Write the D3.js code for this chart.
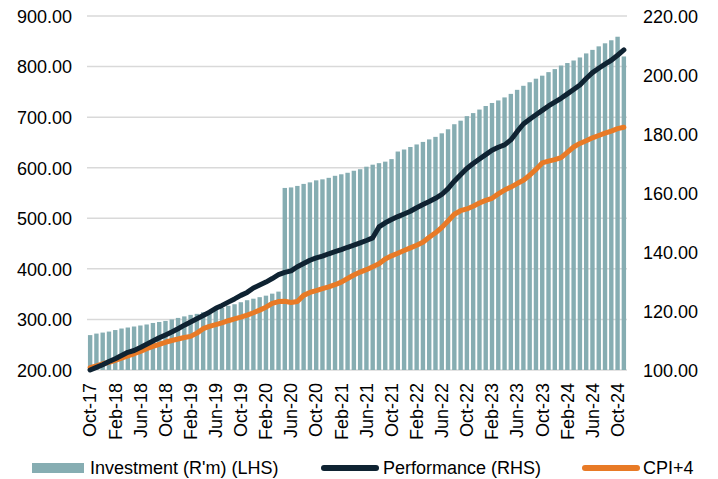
<html>
<script src="https://cdn.jsdelivr.net/npm/d3@7"></script>
<style>
  body { margin: 0; background: #fff; }
  text { font-family: "Liberation Sans", Arial, sans-serif; fill: #000; }
</style>
<body>
<svg width="718" height="479"></svg>
<script>
// monthly, Oct-17 .. Nov-24
const months = d3.utcMonth.range(new Date(Date.UTC(2017, 9, 1)), new Date(Date.UTC(2024, 11, 1)))
  .map(d3.utcFormat("%b-%y"));

const tickLabels = ["Oct-17","Feb-18","Jun-18","Oct-18","Feb-19","Jun-19","Oct-19","Feb-20",
  "Jun-20","Oct-20","Feb-21","Jun-21","Oct-21","Feb-22","Jun-22","Oct-22","Feb-23","Jun-23",
  "Oct-23","Feb-24","Jun-24","Oct-24"];

const investment = [
  269,272,274,276,279,282,284,286,288,290,293,295,297,300,303,306,309,311,314,317,
  320,323,327,330,334,338,341,344,347,351,355,
  560,561,564,568,571,575,577,580,584,587,590,594,597,602,606,609,612,617,
  632,636,641,646,651,656,661,668,676,686,693,
  702,708,715,722,728,733,739,746,754,762,769,776,782,789,795,802,807,812,818,826,
  833,840,846,852,859,820
];

const performance = [
  100.0,100.9,101.8,102.9,103.8,104.9,106.0,106.6,107.6,108.7,109.8,110.9,111.9,112.9,114.0,115.2,
  116.3,117.4,118.5,119.6,120.9,121.9,123.0,124.1,125.3,126.3,127.8,128.8,129.8,131.0,132.3,133.1,
  133.6,135.0,136.1,137.2,138.0,138.6,139.4,140.1,140.8,141.6,142.3,143.1,143.9,144.8,148.5,149.9,
  151.0,152.0,152.9,153.8,155.0,156.1,157.1,158.2,159.5,161.5,164.0,166.2,168.3,170.0,171.5,173.0,
  174.5,175.5,176.3,178.0,180.8,183.4,185.0,186.5,188.0,189.5,190.8,192.1,193.6,195.1,196.6,198.8,
  200.8,202.3,203.7,205.0,206.7,208.5
];

const cpi4 = [
  100.8,101.4,102.1,102.6,103.3,104.0,104.8,105.5,106.3,107.2,108.0,108.7,109.4,110.0,110.5,111.0,
  111.4,112.5,114.0,114.8,115.4,116.0,116.7,117.3,117.9,118.6,119.4,120.3,121.3,122.6,123.2,123.3,
  122.9,123.2,125.3,126.3,126.9,127.6,128.2,128.9,129.8,131.0,132.2,133.2,134.0,135.0,136.0,137.6,
  138.7,139.6,140.5,141.4,142.3,143.3,145.0,146.5,148.3,150.5,152.8,154.0,154.6,155.5,156.6,157.5,
  158.2,159.7,161.0,162.0,163.2,164.3,166.0,168.0,170.2,170.8,171.3,172.0,173.8,175.6,176.8,177.7,
  178.7,179.5,180.3,181.0,181.8,182.3
];

const leftTicks = [200,300,400,500,600,700,800,900];
const rightTicks = [100,120,140,160,180,200,220];

const colBar = "#86adb2", colPerf = "#0f2332", colCpi = "#e87a26";

const svg = d3.select("svg");
const pLeft = 87, pRight = 627, pTop = 16, pBottom = 370;

const x = d3.scaleBand().domain(months).range([pLeft, pRight]).paddingInner(0.3).paddingOuter(0.15);
const yL = d3.scaleLinear().domain([200, 900]).range([pBottom, pTop]);
const yR = d3.scaleLinear().domain([100, 220]).range([pBottom, pTop]);

// gridlines
svg.append("g").selectAll("line").data(leftTicks).join("line")
  .attr("x1", pLeft).attr("x2", pRight)
  .attr("y1", d => yL(d)).attr("y2", d => yL(d))
  .attr("stroke", "#d9d9d9").attr("stroke-width", 1.5);

// bars
svg.append("g").selectAll("rect").data(investment).join("rect")
  .attr("x", (d, i) => x(months[i]))
  .attr("width", x.bandwidth())
  .attr("y", d => yL(d))
  .attr("height", d => yL(200) - yL(d))
  .attr("fill", colBar);

const cx = i => x(months[i]) + x.bandwidth() / 2;

svg.append("path").datum(cpi4)
  .attr("fill", "none").attr("stroke", colCpi).attr("stroke-width", 5)
  .attr("stroke-linejoin", "round").attr("stroke-linecap", "round")
  .attr("d", d3.line().x((d, i) => cx(i)).y(d => yR(d)));

svg.append("path").datum(performance)
  .attr("fill", "none").attr("stroke", colPerf).attr("stroke-width", 5)
  .attr("stroke-linejoin", "round").attr("stroke-linecap", "round")
  .attr("d", d3.line().x((d, i) => cx(i)).y(d => yR(d)));

// left axis
const axL = svg.append("g").attr("transform", "translate(" + (pLeft - 15) + ",0)")
  .call(d3.axisLeft(yL).tickValues(leftTicks).tickFormat(d3.format(".2f")).tickSize(0));
axL.select(".domain").remove();
axL.selectAll("text").attr("font-size", 18).attr("x", 0).attr("dy", "0.35em");

// right axis
const axR = svg.append("g").attr("transform", "translate(" + (pRight + 16) + ",0)")
  .call(d3.axisRight(yR).tickValues(rightTicks).tickFormat(d3.format(".2f")).tickSize(0));
axR.select(".domain").remove();
axR.selectAll("text").attr("font-size", 18).attr("x", 0).attr("dy", "0.35em");

// bottom axis
const axB = svg.append("g").attr("transform", "translate(0," + pBottom + ")")
  .call(d3.axisBottom(x).tickValues(tickLabels).tickSize(0));
axB.select(".domain").remove();
axB.selectAll("text")
  .attr("font-size", 18)
  .attr("transform", "rotate(-90)")
  .attr("text-anchor", "end")
  .attr("x", -13).attr("y", 0).attr("dy", "0.35em");

// legend
const lg = svg.append("g");
lg.append("rect").attr("x", 32).attr("y", 463).attr("width", 52).attr("height", 10).attr("fill", colBar);
lg.append("text").attr("x", 90).attr("y", 468).attr("dy", "0.35em").attr("font-size", 18)
  .text("Investment (R'm) (LHS)");
lg.append("line").attr("x1", 324).attr("x2", 376).attr("y1", 468).attr("y2", 468)
  .attr("stroke", colPerf).attr("stroke-width", 6).attr("stroke-linecap", "round");
lg.append("text").attr("x", 383).attr("y", 468).attr("dy", "0.35em").attr("font-size", 18)
  .text("Performance (RHS)");
lg.append("line").attr("x1", 585).attr("x2", 637).attr("y1", 468).attr("y2", 468)
  .attr("stroke", colCpi).attr("stroke-width", 6).attr("stroke-linecap", "round");
lg.append("text").attr("x", 643).attr("y", 468).attr("dy", "0.35em").attr("font-size", 18)
  .text("CPI+4");
</script>
</body>
</html>
